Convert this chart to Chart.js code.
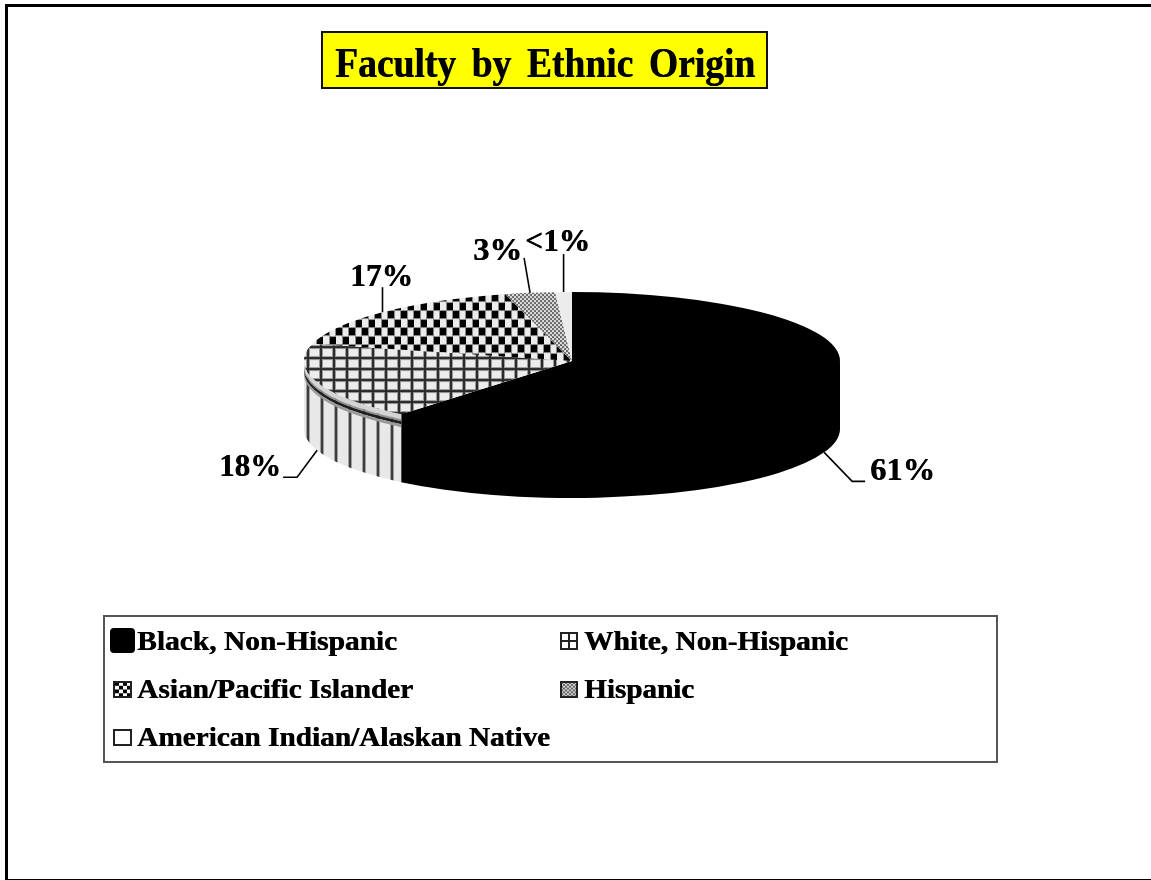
<!DOCTYPE html>
<html>
<head>
<meta charset="utf-8">
<title>Faculty by Ethnic Origin</title>
<script src="https://cdn.jsdelivr.net/npm/chart.js@4"></script>
<style>
  html, body { margin: 0; padding: 0; background: #fff; overflow: hidden; }
  canvas { display: block; }
</style>
</head>
<body>
<canvas id="pieChart" width="1151" height="880"></canvas>
<script>
var chartTitle = 'Faculty by Ethnic Origin';
var categories = ['Black, Non-Hispanic', 'White, Non-Hispanic', 'Asian/Pacific Islander', 'Hispanic', 'American Indian/Alaskan Native'];
var shares = [61, 18, 17, 3, 1];
var shareLabels = ['61%', '18%', '17%', '3%', '<1%'];

var squash = 69 / 268;   // how flat the pie is tilted
var depth = 68;          // height of the pie wall, px
var serif = '"Liberation Serif", "Times New Roman", serif';

function tile(w, h, paint) {
    var c = document.createElement('canvas');
    c.width = w;
    c.height = h;
    paint(c.getContext('2d'), w, h);
    return c;
}

function gridTile(x, w, h) {
    x.fillStyle = '#ececec';
    x.fillRect(0, 0, w, h);
    x.fillStyle = '#9a9a9a';
    x.fillRect(0, 0, 4, h);
    x.fillRect(0, 0, w, 4);
    x.fillStyle = '#2a2a2a';
    x.fillRect(1, 0, 2, h);
    x.fillRect(0, 1, w, 2);
}

function stripeTile(x, w, h) {
    x.fillStyle = '#e8e8e8';
    x.fillRect(0, 0, w, h);
    x.fillStyle = '#a0a0a0';
    x.fillRect(0, 0, 4, h);
    x.fillStyle = '#3a3a3a';
    x.fillRect(1, 0, 2, h);
}

function checkTile(x, w, h) {
    x.fillStyle = '#ececec';
    x.fillRect(0, 0, w, h);
    x.fillStyle = '#8a8a8a';
    x.fillRect(0, 0, 8, 9);
    x.fillRect(6, 8, 7, 9);
    x.fillRect(0, 8, 1, 9);
    x.fillStyle = '#ececec';
    x.fillRect(7, 0, 6, 8);
    x.fillRect(1, 9, 5, 8);
    x.fillStyle = '#000';
    x.fillRect(1, 1, 6, 7);
    x.fillRect(7, 9, 6, 7);
}

function meshTile(x, w, h) {
    x.fillStyle = '#dcdcdc';
    x.fillRect(0, 0, w, h);
    x.fillStyle = '#6a6a6a';
    x.fillRect(0, 0, 2, 2);
    x.fillRect(2, 2, 2, 2);
}

function plainTile(x, w, h) {
    x.fillStyle = '#ececec';
    x.fillRect(0, 0, w, h);
}

// patterns are drawn under the squashed transform, so undo it on the tile
function flatPattern(ctx, canvas, offsetX) {
    var p = ctx.createPattern(canvas, 'repeat');
    p.setTransform(new DOMMatrix().translate(offsetX || 0, 0).scale(1, 1 / squash));
    return p;
}

var ctx = document.getElementById('pieChart').getContext('2d');
var sideStripes = ctx.createPattern(tile(14.5, 8, stripeTile), 'repeat');
sideStripes.setTransform(new DOMMatrix().translate(12, 0));

var sliceFills = [
    '#000000',
    flatPattern(ctx, tile(13, 11, gridTile), 7),
    flatPattern(ctx, tile(13, 17, checkTile), 4),
    flatPattern(ctx, tile(4, 4, meshTile)),
    flatPattern(ctx, tile(4, 4, plainTile))
];
var sideFills = ['#000000', sideStripes, '#cccccc', '#cccccc', '#cccccc'];
var lipBands = [[0, 5, '#d4d4d4'], [5, 7, '#929292'], [7, 10, '#1e1e1e'], [10, 13, '#9a9a9a']];

function sidePath(c, arc, from, to, top, bottom) {
    c.beginPath();
    c.arc(arc.x, arc.y + top / squash, arc.outerRadius, from, to);
    c.arc(arc.x, arc.y + bottom / squash, arc.outerRadius, to, from, true);
    c.closePath();
}

var tiltPlugin = {
    id: 'tilt',
    beforeDatasetsDraw: function (chart) {
        var c = chart.ctx;
        var arcs = chart.getDatasetMeta(0).data;
        var midY = arcs[0].y;
        c.save();
        c.translate(0, midY);
        c.scale(1, squash);
        c.translate(0, -midY);
        arcs.forEach(function (arc, i) {
            // only the front half of the wall can be seen
            var from = Math.max(arc.startAngle, 0);
            var to = Math.min(arc.endAngle, Math.PI);
            if (to <= from) return;
            // start a little above the rim so no seam shows under the top face
            sidePath(c, arc, from, to, -2, depth);
            c.fillStyle = sideFills[i];
            c.fill();
            if (i === 0) return;
            lipBands.forEach(function (b) {
                sidePath(c, arc, from, to, b[0], b[1]);
                c.fillStyle = b[2];
                c.fill();
            });
        });
    },
    afterDatasetsDraw: function (chart) {
        chart.ctx.restore();
    }
};

function fitText(c, text, x, baseline, width, font, gap) {
    c.save();
    c.font = font;
    c.wordSpacing = (gap || 0) + 'px';
    c.textAlign = 'left';
    c.textBaseline = 'alphabetic';
    c.fillStyle = '#000';
    // the original lettering is heavier than the bold face
    c.shadowColor = '#000';
    c.shadowOffsetX = 0.6;
    c.translate(x, baseline);
    c.scale(width / c.measureText(text).width, 1);
    c.fillText(text, 0, 0);
    c.restore();
}

// leader line bends, relative to the slice's rim point, and where its text goes
var callouts = [
    { bend: [[28, 29], [41, 29]], x: 870, base: 480, w: 65 },
    { bend: [[-20, 27], [-34, 27]], x: 219, base: 476, w: 62 },
    { bend: [[0, -25]], x: 350, base: 286, w: 63 },
    { bend: [[-6, -35]], x: 473, base: 260, w: 49 },
    { bend: [[0, -38]], x: 525, base: 251, w: 65 }
];

var legendSlots = [
    { x: 137, base: 650, w: 260, box: [110, 628, 25, 25] },
    { x: 584, base: 650, w: 264, box: [561, 633, 16, 16] },
    { x: 137, base: 698, w: 276, box: [114, 682, 17, 15] },
    { x: 584, base: 698, w: 110, box: [561, 682, 16, 15] },
    { x: 137, base: 746, w: 413, box: [114, 730, 17, 15] }
];
var legendTiles = [
    null,
    tile(16, 16, function (x, w, h) {
        x.fillStyle = '#fff';
        x.fillRect(0, 0, w, h);
        x.fillStyle = '#222';
        x.fillRect(0, 7, w, 2);
        x.fillRect(7, 0, 2, h);
    }),
    tile(17, 16, function (x, w, h) {
        x.fillStyle = '#fff';
        x.fillRect(0, 0, w, h);
        x.fillStyle = '#000';
        for (var r = 0; r < 4; r++) {
            for (var q = 0; q < 4; q++) {
                if ((r + q) % 2 === 0) x.fillRect(q * 4 + 1, r * 4, 4, 4);
            }
        }
    }),
    tile(16, 16, function (x, w, h) {
        x.fillStyle = '#cfcfcf';
        x.fillRect(0, 0, w, h);
        x.fillStyle = '#666';
        for (var r = 0; r < 8; r++) {
            for (var q = 0; q < 8; q++) {
                if ((r + q) % 2 === 0) x.fillRect(q * 2, r * 2, 2, 2);
            }
        }
    }),
    tile(17, 16, function (x, w, h) {
        x.fillStyle = '#fff';
        x.fillRect(0, 0, w, h);
    })
];

var decorPlugin = {
    id: 'decor',
    afterDraw: function (chart) {
        var c = chart.ctx;
        var arcs = chart.getDatasetMeta(0).data;

        // page frame
        c.fillStyle = '#000';
        c.fillRect(5, 4, 1146, 3);
        c.fillRect(5, 4, 3, 876);
        c.fillRect(5, 879, 1146, 1);

        // title box
        c.fillStyle = '#ffff00';
        c.fillRect(322, 32, 445, 56);
        c.strokeStyle = '#111';
        c.lineWidth = 2;
        c.strokeRect(322, 32, 445, 56);
        fitText(c, chartTitle, 335, 77, 420, 'bold 42px ' + serif, 7);

        // callouts, started from each slice's own rim point
        arcs.forEach(function (arc, i) {
            var mid = (arc.startAngle + arc.endAngle) / 2;
            var x = arc.x + arc.outerRadius * Math.cos(mid);
            var y = arc.y + arc.outerRadius * squash * Math.sin(mid);
            if (Math.sin(mid) > 0) y += depth;
            c.beginPath();
            c.moveTo(x, y);
            callouts[i].bend.forEach(function (b) {
                c.lineTo(x + b[0], y + b[1]);
            });
            c.strokeStyle = '#000';
            c.lineWidth = 1.6;
            c.stroke();
            fitText(c, shareLabels[i], callouts[i].x, callouts[i].base, callouts[i].w, 'bold 31px ' + serif);
        });

        // legend
        c.fillStyle = '#fff';
        c.fillRect(104, 616, 893, 146);
        c.strokeStyle = '#555';
        c.lineWidth = 2;
        c.strokeRect(104, 616, 893, 146);
        categories.forEach(function (name, i) {
            var s = legendSlots[i];
            var b = s.box;
            if (i === 0) {
                c.beginPath();
                c.roundRect(b[0], b[1], b[2], b[3], 4);
                c.fillStyle = '#000';
                c.fill();
            } else {
                c.drawImage(legendTiles[i], b[0], b[1], b[2], b[3]);
                c.strokeStyle = '#222';
                c.lineWidth = 2;
                c.strokeRect(b[0], b[1], b[2], b[3]);
            }
            fitText(c, name, s.x, s.base, s.w, 'bold 28px ' + serif);
        });
    }
};

var myChart = new Chart(ctx, {
    type: 'pie',
    data: {
        labels: categories,
        datasets: [{
            data: shares,
            backgroundColor: sliceFills,
            borderWidth: 0,
            clip: false
        }]
    },
    options: {
        responsive: false,
        animation: false,
        events: [],
        layout: { padding: { left: 304, right: 311, top: 93, bottom: 251 } },
        plugins: {
            legend: { display: false },
            tooltip: { enabled: false }
        }
    },
    plugins: [tiltPlugin, decorPlugin]
});
</script>
</body>
</html>
